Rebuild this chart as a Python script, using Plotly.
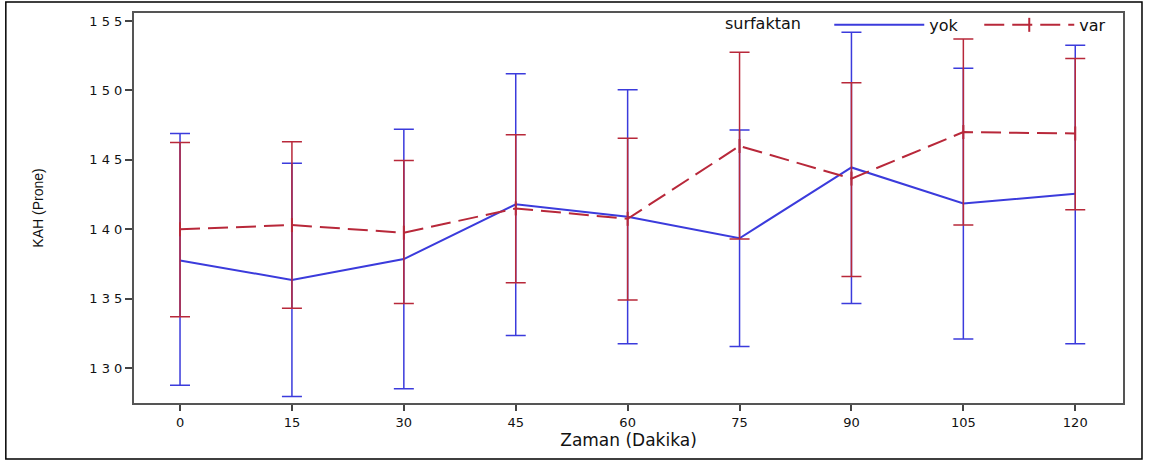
import plotly.graph_objects as go

times = [0, 15, 30, 45, 60, 75, 90, 105, 120]
x_tick_labels = ["0", "15", "30", "45", "60", "75", "90", "105", "120"]
y_tick_vals = [130, 135, 140, 145, 150, 155]
y_tick_labels = ["1 3 0", "1 3 5", "1 4 0", "1 4 5", "1 5 0", "1 5 5"]

yok_mean = [137.75, 136.35, 137.85, 141.8, 140.9, 139.35, 144.45, 141.85, 142.55]
yok_upper = [146.9, 144.75, 147.2, 151.2, 150.05, 147.15, 154.2, 151.6, 153.25]
yok_lower = [128.75, 127.95, 128.5, 132.35, 131.75, 131.55, 134.65, 132.1, 131.75]

var_mean = [140.0, 140.3, 139.75, 141.5, 140.75, 146.0, 143.65, 147.0, 146.9]
var_upper = [146.25, 146.3, 144.95, 146.8, 146.55, 152.75, 150.55, 153.7, 152.3]
var_lower = [133.7, 134.3, 134.65, 136.15, 134.9, 139.3, 136.6, 140.3, 141.4]

BLUE = "#3b3bdc"
RED = "#b8283a"
TXT = "#111111"

fig = go.Figure()

fig.add_trace(go.Scatter(
    x=times, y=yok_mean, mode="lines", name="yok",
    line=dict(color=BLUE, width=2),
    error_y=dict(type="data", symmetric=False,
                 array=[u - m for u, m in zip(yok_upper, yok_mean)],
                 arrayminus=[m - l for l, m in zip(yok_lower, yok_mean)],
                 color=BLUE, thickness=1.5, width=10),
))
fig.add_trace(go.Scatter(
    x=times, y=var_mean, mode="lines+markers", name="var",
    line=dict(color=RED, width=2, dash="20px,8px"),
    marker=dict(symbol="line-ns-open", size=10, color=RED, line=dict(color=RED, width=2)),
    error_y=dict(type="data", symmetric=False,
                 array=[u - m for u, m in zip(var_upper, var_mean)],
                 arrayminus=[m - l for l, m in zip(var_lower, var_mean)],
                 color=RED, thickness=1.5, width=10),
))

fig.update_layout(
    width=1150, height=462,
    margin=dict(l=134, r=27, t=13, b=59, autoexpand=False),
    paper_bgcolor="white", plot_bgcolor="white",
    font=dict(family="DejaVu Sans", color=TXT),
    showlegend=True,
    legend=dict(
        orientation="h", x=1.007, xanchor="right", y=1.013, yanchor="top",
        title=dict(text="surfaktan\u00a0\u00a0\u00a0\u00a0", font=dict(size=16, family="DejaVu Sans", color=TXT)),
        font=dict(size=16, family="DejaVu Sans", color=TXT),
        itemwidth=90, entrywidth=45, bgcolor="rgba(0,0,0,0)", borderwidth=0,
        tracegroupgap=0,
    ),
    xaxis=dict(
        range=[-6.17, 126.4], tickmode="array", tickvals=times, ticktext=x_tick_labels,
        showgrid=False, zeroline=False, showline=True, mirror=True,
        linecolor="#555555", linewidth=2, ticks="outside", ticklen=6, tickwidth=1.5,
        tickcolor="#444444", tickfont=dict(size=13, family="DejaVu Sans", color=TXT),
        title=dict(text="Zaman (Dakika)", font=dict(size=17, family="DejaVu Sans", color=TXT), standoff=6),
    ),
    yaxis=dict(
        range=[127.48, 155.58], tickmode="array", tickvals=y_tick_vals, ticktext=y_tick_labels,
        showgrid=False, zeroline=False, showline=True, mirror=True,
        linecolor="#555555", linewidth=2, ticks="outside", ticklen=7, tickwidth=1.5,
        tickcolor="#444444", tickfont=dict(size=13, family="DejaVu Sans", color=TXT),
        title=dict(text="KAH (Prone)", font=dict(size=14, family="Liberation Sans Narrow, Liberation Sans", color=TXT), standoff=42),
    ),
    shapes=[dict(type="rect", xref="paper", yref="paper",
                 x0=-0.1296, x1=1.0192, y0=-0.1436, y1=1.0282,
                 line=dict(color="black", width=1.5), fillcolor="rgba(0,0,0,0)", layer="below")],
)

fig.write_html("out.html", config={"displayModeBar": False},
               post_script="document.body.style.margin='0px';document.body.style.padding='0px';")
